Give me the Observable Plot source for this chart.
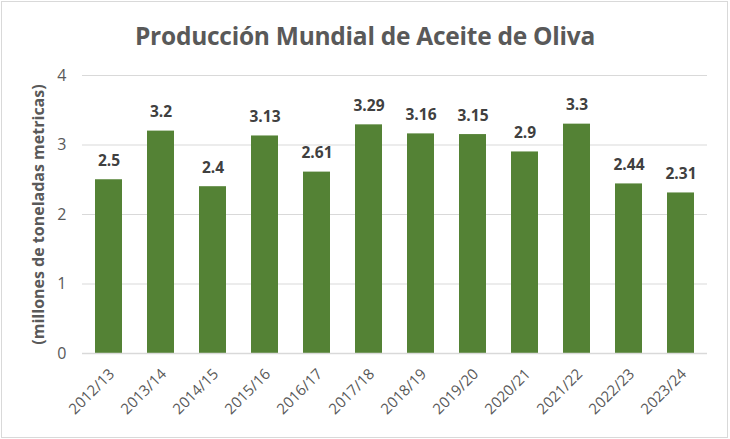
<!DOCTYPE html>
<html>
<head>
<meta charset="utf-8">
<script src="https://cdn.jsdelivr.net/npm/d3@7"></script>
<script src="https://cdn.jsdelivr.net/npm/@observablehq/plot@0.6"></script>
<style>
  html, body { margin: 0; padding: 0; background: #fff; }
  #wrap { position: relative; width: 730px; height: 439px; overflow: hidden; font-family: "Open Sans", sans-serif; }
  #frame { position: absolute; left: 1px; top: 1px; width: 727px; height: 437px; border: 1px solid #d9d9d9; box-sizing: border-box; pointer-events: none; }
  #title { position: absolute; left: 0; top: 21px; width: 730px; text-align: center; font-size: 24.5px; font-weight: 700; color: #595959; letter-spacing: -0.25px; line-height: 1.2; }
  #chart { position: absolute; left: 0; top: 0; }
</style>
</head>
<body>
<div id="wrap">
  <div id="chart"></div>
  <div id="title">Producción Mundial de Aceite de Oliva</div>
  <div id="frame"></div>
</div>
<script>
const campaigns = ["2012/13","2013/14","2014/15","2015/16","2016/17","2017/18","2018/19","2019/20","2020/21","2021/22","2022/23","2023/24"];
const production = [2.5, 3.2, 2.4, 3.13, 2.61, 3.29, 3.16, 3.15, 2.9, 3.3, 2.44, 2.31];
const yTicks = [0, 1, 2, 3, 4];
const yLabel = "(millones de toneladas metricas)";

const data = campaigns.map((c, i) => ({campaign: c, value: production[i]}));

const chart = Plot.plot({
  width: 730,
  height: 439,
  marginLeft: 82,
  marginRight: 23,
  marginTop: 75,
  marginBottom: 86,
  style: {fontFamily: "Open Sans, sans-serif", background: "transparent", overflow: "visible"},
  x: {domain: campaigns, paddingInner: 0.49, paddingOuter: 0.245},
  y: {domain: [0, 4]},
  marks: [
    Plot.gridY(yTicks, {stroke: "#d9d9d9", strokeOpacity: 1, strokeWidth: 1.2}),
    Plot.barY(data, {x: "campaign", y: "value", fill: "#548235"}),
    Plot.ruleY([0], {stroke: "#d9d9d9", strokeWidth: 1.5}),
    Plot.text(data, {x: "campaign", y: "value", text: d => String(d.value), dy: -19, fontSize: 15.5, fontWeight: 700, fill: "#404040"}),
    Plot.axisY(yTicks, {tickSize: 0, tickPadding: 16, fontSize: 16, color: "#595959", tickFormat: d => String(d), label: yLabel, labelAnchor: "center", labelArrow: "none", labelOffset: 50}),
    Plot.axisX({tickSize: 0, tickPadding: 10, tickRotate: -45, dx: 3, dy: 8, fontSize: 15, color: "#595959", label: null})
  ]
});
document.getElementById("chart").appendChild(chart);
chart.querySelectorAll("g[aria-label='y-axis label']").forEach(g => {
  g.setAttribute("font-weight", "700");
  g.setAttribute("font-size", "16");
  g.setAttribute("fill", "#595959");
  g.querySelectorAll("text").forEach(t => {
    t.setAttribute("font-weight", "700");
    t.setAttribute("font-size", "16");
    t.setAttribute("fill", "#595959");
  });
});
</script>
</body>
</html>
